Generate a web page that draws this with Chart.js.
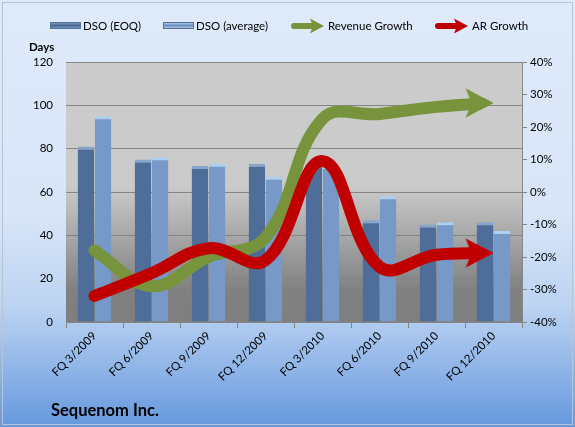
<!DOCTYPE html>
<html>
<head>
<meta charset="utf-8">
<script src="https://cdn.jsdelivr.net/npm/chart.js@4/dist/chart.umd.min.js"></script>
<style>
  html, body { margin: 0; padding: 0; background: #fff; }
  #wrap { width: 575px; height: 427px; position: relative; }
</style>
</head>
<body>
<div id="wrap"><canvas id="c" width="575" height="427"></canvas></div>
<script>
// ---- data ----
const categories = ['FQ 3/2009', 'FQ 6/2009', 'FQ 9/2009', 'FQ 12/2009', 'FQ 3/2010', 'FQ 6/2010', 'FQ 9/2010', 'FQ 12/2010'];
const dsoEOQ = [81, 75, 72, 73, 73, 47, 45, 46];
const dsoAverage = [95, 76, 73, 67, 72, 58, 46, 42];
const revenueGrowth = [-18, -29, -20, -14, 22.5, 24, 26.2, 27.4];
const arGrowth = [-32, -25, -17.3, -21, 9.5, -23, -19.3, -18.8];
const daysTicks = { min: 0, max: 120, step: 20 };
const pctTicks = { min: -40, max: 40, step: 10 };
const seriesNames = ['DSO (EOQ)', 'DSO (average)', 'Revenue Growth', 'AR Growth'];
const chartTitle = 'Sequenom Inc.';
const leftAxisTitle = 'Days';

const FONT = 'Lato, "Liberation Sans", sans-serif';
const GREEN = '#77933c';
const RED = '#c00000';
const HEAD_LEN = 29, HEAD_H = 30;

function arrowHead(color) {
  const c = document.createElement('canvas');
  c.width = HEAD_LEN * 2; c.height = HEAD_H;
  const g = c.getContext('2d');
  g.fillStyle = color;
  g.beginPath();
  g.moveTo(HEAD_LEN, HEAD_H / 2);
  g.lineTo(1, 0);
  g.lineTo(7, HEAD_H / 2);
  g.lineTo(1, HEAD_H);
  g.closePath();
  g.fill();
  return c;
}
const greenHead = arrowHead(GREEN);
const redHead = arrowHead(RED);

function barGrad(ctx, dark, light) {
  const chart = ctx.chart;
  const el = ctx.element;
  if (!chart.chartArea || !el || el.width === undefined || isNaN(el.x)) return light;
  const x0 = el.x - el.width / 2, x1 = el.x + el.width / 2;
  if (!isFinite(x0) || !isFinite(x1)) return light;
  const g = chart.ctx.createLinearGradient(x0, 0, x1, 0);
  g.addColorStop(0, dark);
  g.addColorStop(0.5, light);
  g.addColorStop(1, dark);
  return g;
}

// clip the thick line so it ends cleanly under the arrow head
const arrowClip = {
  id: 'arrowClip',
  beforeDatasetDraw(chart, args) {
    const ds = chart.data.datasets[args.index];
    if (ds.type !== 'line') return;
    const pt = args.meta.data[args.meta.data.length - 1];
    if (!pt) return;
    const x = pt.x, y = pt.y, ctx = chart.ctx;
    ctx.save();
    ctx.beginPath();
    ctx.rect(0, 0, chart.width, chart.height);
    ctx.moveTo(x - HEAD_LEN + 1, y - HEAD_H / 2);
    ctx.lineTo(x - HEAD_LEN + 1, y - 40);
    ctx.lineTo(x + 40, y - 40);
    ctx.lineTo(x + 40, y + 40);
    ctx.lineTo(x - HEAD_LEN + 1, y + 40);
    ctx.lineTo(x - HEAD_LEN + 1, y + HEAD_H / 2);
    ctx.lineTo(x, y);
    ctx.closePath();
    ctx.clip('evenodd');
  },
  afterDatasetDraw(chart, args) {
    const ds = chart.data.datasets[args.index];
    if (ds.type !== 'line') return;
    chart.ctx.restore();
  }
};

const bgPlugin = {
  id: 'bg',
  beforeDraw(chart) {
    const { ctx, width, height, chartArea: a } = chart;
    ctx.save();
    const g = ctx.createLinearGradient(0, 0, 0, height);
    g.addColorStop(0, '#dfeafb');
    g.addColorStop(0.5, '#d8e5f8');
    g.addColorStop(0.72, '#bcd3f2');
    g.addColorStop(1, '#6598de');
    ctx.fillStyle = g;
    ctx.fillRect(0, 0, width, height);
    ctx.strokeStyle = '#b9c4d2';
    ctx.lineWidth = 1;
    ctx.strokeRect(2.5, 2.5, width - 5, height - 5);
    const p = ctx.createLinearGradient(0, a.top, 0, a.bottom);
    p.addColorStop(0, '#cccccc');
    p.addColorStop(0.48, '#cacaca');
    p.addColorStop(0.88, '#808080');
    p.addColorStop(1, '#7f7f7f');
    ctx.fillStyle = p;
    ctx.fillRect(a.left, a.top, a.right - a.left, a.bottom - a.top);
    ctx.restore();
  },
  afterDraw(chart) {
    const { ctx } = chart;
    ctx.save();
    ctx.fillStyle = '#000';
    ctx.textBaseline = 'middle';
    ctx.font = '11.5px ' + FONT;
    const sw = (x, dark, light) => {
      const g = ctx.createLinearGradient(0, 22, 0, 29);
      g.addColorStop(0, light); g.addColorStop(0.5, dark); g.addColorStop(1, light);
      ctx.fillStyle = g;
      ctx.fillRect(x, 22, 31, 7);
      ctx.strokeStyle = '#56739b';
      ctx.lineWidth = 1;
      ctx.strokeRect(x + 0.5, 22.5, 30, 6);
    };
    sw(50, '#4a6892', '#8aa6cc');
    sw(163, '#6a8fc0', '#c5dcf5');
    const arr = (x, color) => {
      ctx.strokeStyle = color; ctx.lineWidth = 6; ctx.lineCap = 'round';
      ctx.beginPath(); ctx.moveTo(x + 3, 26); ctx.lineTo(x + 22, 26); ctx.stroke();
      ctx.fillStyle = color;
      ctx.beginPath();
      ctx.moveTo(x + 33, 26); ctx.lineTo(x + 19, 18.5); ctx.lineTo(x + 22, 26); ctx.lineTo(x + 19, 33.5);
      ctx.closePath(); ctx.fill();
    };
    arr(291, GREEN);
    arr(435, RED);
    ctx.fillStyle = '#000';
    ctx.textAlign = 'left';
    ctx.fillText(seriesNames[0], 83, 26);
    ctx.fillText(seriesNames[1], 196, 26);
    ctx.fillText(seriesNames[2], 328, 26);
    ctx.fillText(seriesNames[3], 472, 26);
    ctx.font = 'bold 11.5px ' + FONT;
    ctx.fillText(leftAxisTitle, 29, 47);
    ctx.font = 'bold 16.5px ' + FONT;
    ctx.textBaseline = 'alphabetic';
    ctx.fillText(chartTitle, 51, 416);
    ctx.restore();
  }
};

const last = categories.length - 1;

new Chart(document.getElementById('c'), {
  data: {
    labels: categories,
    datasets: [
      {
        type: 'line', label: seriesNames[3], data: arGrowth, yAxisID: 'y1', order: 1,
        borderColor: RED, backgroundColor: RED, borderWidth: 12, borderCapStyle: 'round',
        tension: 0.4, fill: false,
        pointStyle: c => c.dataIndex === last ? redHead : 'circle',
        pointRadius: c => c.dataIndex === last ? 15 : 0,
        pointBorderWidth: 0, pointHoverRadius: 0
      },
      {
        type: 'line', label: seriesNames[2], data: revenueGrowth, yAxisID: 'y1', order: 2,
        borderColor: GREEN, backgroundColor: GREEN, borderWidth: 12, borderCapStyle: 'round',
        tension: 0.4, fill: false,
        pointStyle: c => c.dataIndex === last ? greenHead : 'circle',
        pointRadius: c => c.dataIndex === last ? 15 : 0,
        pointBorderWidth: 0, pointHoverRadius: 0
      },
      {
        type: 'bar', label: seriesNames[0], data: dsoEOQ, yAxisID: 'y', order: 3,
        backgroundColor: c => barGrad(c, '#3a5577', '#4e6e99'),
        borderColor: '#86a5cc', borderWidth: { top: 3, left: 0, right: 0, bottom: 0 }, borderSkipped: 'bottom',
        barPercentage: 0.97, categoryPercentage: 0.6
      },
      {
        type: 'bar', label: seriesNames[1], data: dsoAverage, yAxisID: 'y', order: 4,
        backgroundColor: c => barGrad(c, '#5a7eae', '#7699c8'),
        borderColor: '#acd0f2', borderWidth: { top: 3, left: 0, right: 0, bottom: 0 }, borderSkipped: 'bottom',
        barPercentage: 0.97, categoryPercentage: 0.6
      }
    ]
  },
  options: {
    responsive: false,
    animation: false,
    events: [],
    layout: { padding: { top: 62, left: 0, right: 0, bottom: 0 } },
    plugins: { legend: { display: false }, title: { display: false }, tooltip: { enabled: false } },
    scales: {
      x: {
        type: 'category',
        grid: { offset: true, drawOnChartArea: false, drawTicks: true, tickLength: 6, color: '#868686' },
        border: { display: true, color: '#868686' },
        ticks: { color: '#000', font: { family: FONT, size: 11.5 }, minRotation: 45, maxRotation: 45, padding: 1, autoSkip: false },
        afterFit(s) { s.height = 105; }
      },
      y: {
        position: 'left', min: daysTicks.min, max: daysTicks.max,
        grid: { color: '#858585', drawTicks: false, lineWidth: 1 },
        border: { display: false },
        ticks: { stepSize: daysTicks.step, color: '#000', font: { family: FONT, size: 11.5 }, padding: 13 },
        afterFit(s) { s.width = 66; }
      },
      y1: {
        position: 'right', min: pctTicks.min, max: pctTicks.max,
        grid: { drawOnChartArea: false, drawTicks: true, tickLength: 5, color: '#868686' },
        border: { display: true, color: '#868686' },
        ticks: { stepSize: pctTicks.step, color: '#000', font: { family: FONT, size: 11.5 }, padding: 3, callback: v => v + '%' },
        afterFit(s) { s.width = 53; }
      }
    }
  },
  plugins: [bgPlugin, arrowClip]
});
</script>
</body>
</html>
